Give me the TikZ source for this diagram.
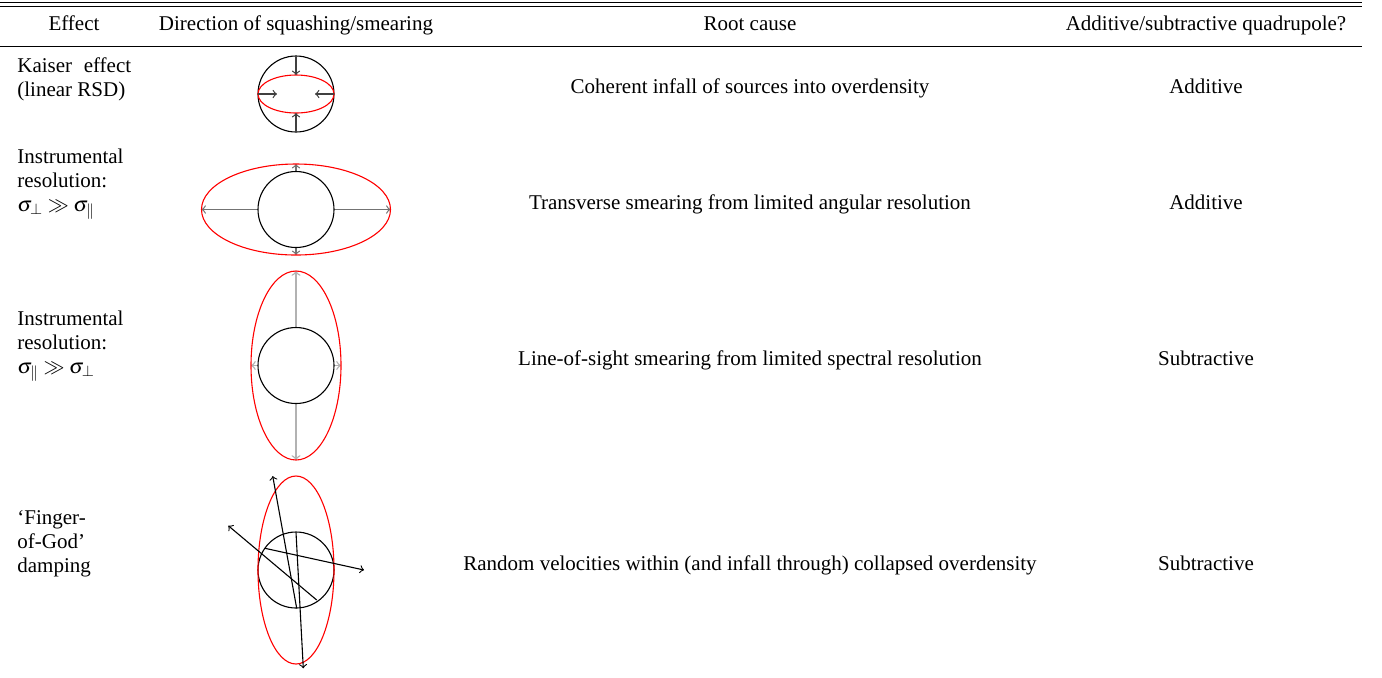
\documentclass[tikz,border=0pt]{standalone}
\usepackage{mathptmx}
\usepackage{fontspec}
\setmainfont{Liberation Serif}
\begin{document}
\begin{tikzpicture}[x=0.5pt,y=-0.5pt,
  txt/.style={font=\fontsize{10.5}{12}\selectfont, inner sep=0pt},
  hd/.style={txt, anchor=base},
  lab/.style={txt, anchor=base west, align=left},
  rulel/.style={line width=0.5pt},
  blackline/.style={line width=0.55pt},
  redline/.style={line width=0.55pt, draw=red},
  kar/.style={->, draw=black!75, line width=0.6pt},
  gar/.style={->, draw=black!55, line width=0.6pt},
  lgar/.style={->, draw=black!30, line width=0.7pt},
  fog/.style={->, draw=black, line width=0.55pt}]
\useasboundingbox (0,0) rectangle (1382,677);
% rules
\draw[rulel] (0,2) -- (1362,2);
\draw[rulel] (0,6) -- (1362,6);
\draw[rulel] (0,46) -- (1362,46);
% header
\node[hd] (h1) at (74,30) {Effect};
\node[hd] (h2) at (296,30) {Direction of squashing/smearing};
\node[hd] (h3) at (750,30) {Root cause};
\node[hd] (h4) at (1206,30) {Additive/subtractive quadrupole?};
% row 1 (anchor at last line's baseline)
\node[lab] (e1) at (17,96) {Kaiser\hspace{0.55em}effect\\(linear RSD)};
\coordinate (k) at (296,94);
\draw[blackline] (k) circle[radius=19pt];
\draw[redline] (k) ellipse[x radius=19pt, y radius=9.5pt];
\draw[kar] (296,56) -- (296,75);
\draw[kar] (296,132) -- (296,113);
\draw[kar] (258,94) -- (277,94);
\draw[kar] (334,94) -- (315,94);
\node[hd] (r1) at (750,93) {Coherent infall of sources into overdensity};
\node[hd] (q1) at (1206,93) {Additive};
% row 2
\node[lab] (e2) at (17,211) {Instrumental\\resolution:\\$\sigma_\perp \gg \sigma_\parallel$};
\coordinate (t) at (296,209.5);
\draw[gar] (258,209.5) -- (201.5,209.5);
\draw[gar] (334,209.5) -- (390.5,209.5);
\draw[gar] (296,171.5) -- (296,164);
\draw[gar] (296,247.5) -- (296,255);
\draw[blackline] (t) circle[radius=19pt];
\draw[redline] (t) ellipse[x radius=47.25pt, y radius=22.75pt];
\node[hd] (r2) at (750,209) {Transverse smearing from limited angular resolution};
\node[hd] (q2) at (1206,209) {Additive};
% row 3
\node[lab] (e3) at (17,373) {Instrumental\\resolution:\\$\sigma_\parallel \gg \sigma_\perp$};
\coordinate (l) at (296,365.5);
\draw[lgar] (296,327.5) -- (296,271);
\draw[lgar] (296,403.5) -- (296,460);
\draw[lgar] (258,365.5) -- (251,365.5);
\draw[lgar] (334,365.5) -- (341,365.5);
\draw[blackline] (l) circle[radius=19pt];
\draw[redline] (l) ellipse[x radius=22.5pt, y radius=47.25pt];
\node[hd] (r3) at (750,365) {Line-of-sight smearing from limited spectral resolution};
\node[hd] (q3) at (1206,365) {Subtractive};
% row 4
\node[lab] (e4) at (17,572) {`Finger-\\of-God'\\damping};
\coordinate (f) at (296,570);
\draw[blackline] (f) circle[radius=19pt];
\draw[redline] (f) ellipse[x radius=19pt, y radius=47pt];
\draw[fog] (296.7,608.3) -- (272.7,476);
\draw[fog] (296,532.3) -- (303.3,668.3);
\draw[fog] (316.7,600) -- (228.3,525.7);
\draw[fog] (265,548.3) -- (364,570);
\node[hd] (r4) at (750,570) {Random velocities within (and infall through) collapsed overdensity};
\node[hd] (q4) at (1206,570) {Subtractive};
\end{tikzpicture}
\end{document}
